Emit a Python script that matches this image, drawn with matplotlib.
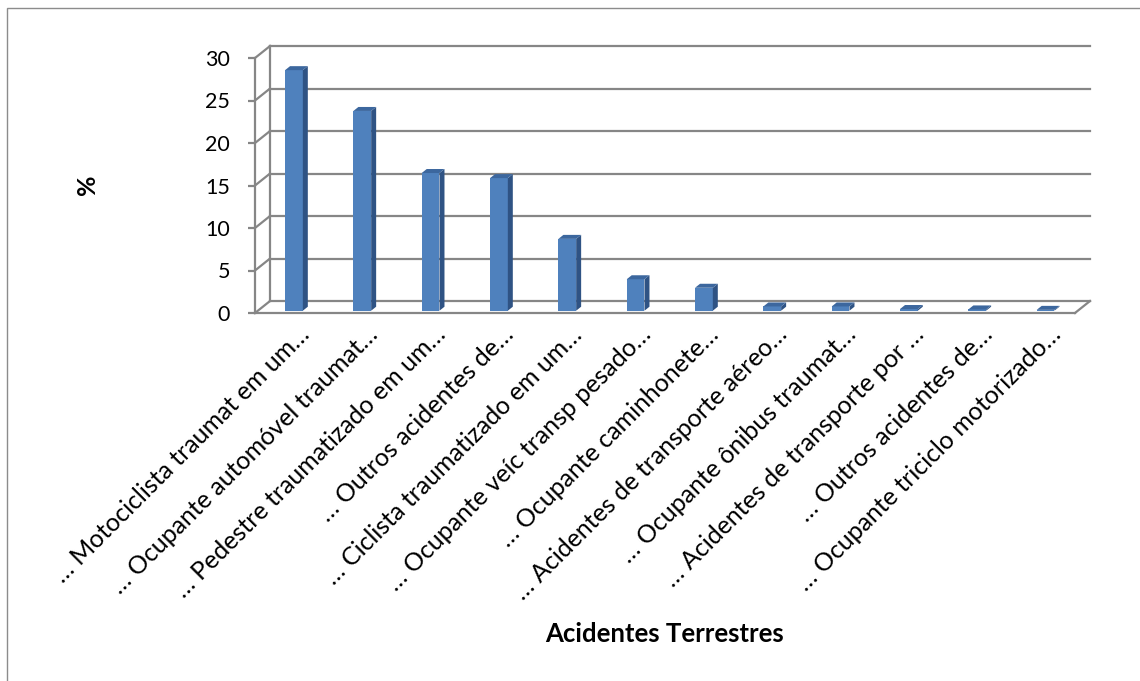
import numpy as np
import matplotlib
matplotlib.use("Agg")
import matplotlib.pyplot as plt
from matplotlib.patches import Polygon
from matplotlib.transforms import ScaledTranslation

plt.rcParams['font.family'] = ['Lato', 'DejaVu Sans']

categories = ["… Motociclista traumat em um…",
              "… Ocupante automóvel traumat…",
              "… Pedestre traumatizado em um…",
              "… Outros acidentes de…",
              "… Ciclista traumatizado em um…",
              "… Ocupante veíc transp pesado…",
              "… Ocupante caminhonete…",
              "… Acidentes de transporte aéreo…",
              "… Ocupante ônibus traumat…",
              "… Acidentes de transporte por …",
              "… Outros acidentes de…",
              "… Ocupante triciclo motorizado…"]
values = [28.3, 23.5, 16.2, 15.6, 8.45, 3.7, 2.7, 0.5, 0.5, 0.2, 0.15, 0.1]
yticks = [0, 5, 10, 15, 20, 25, 30]

grid = "#868686"
face = "#4F81BD"
side = "#2F5384"
top = "#3C679E"

# depth of the fake 3d box, in data units
dx = 0.22
dy = 1.41

fig = plt.figure(figsize=(11.4, 6.81), dpi=100)
fig.patches.append(plt.Rectangle((7 / 1140, -0.1), 1.2, (673 + 68) / 681,
                                 transform=fig.transFigure, fill=False,
                                 edgecolor="#8C8C8C", lw=1.0))

ax = fig.add_axes([255 / 1140, (681 - 317.25) / 681, 835 / 1140, 274.55 / 681])
n = len(values)
ax.set_xlim(-0.5, n - 0.5 + dx)
ax.set_ylim(-0.5, 31.8)
ax.patch.set_alpha(0)

# back wall gridlines and the left-side connectors
for v in yticks:
    ax.plot([-0.5 + dx, n - 0.5 + dx], [v + dy, v + dy], color=grid, lw=1.6,
            clip_on=False, zorder=1)
    ax.plot([-0.5, -0.5 + dx], [v, v + dy], color=grid, lw=1.6,
            clip_on=False, zorder=1)
ax.plot([-0.5 + dx, -0.5 + dx], [dy, yticks[-1] + dy], color=grid, lw=1.6,
        clip_on=False, zorder=1)
ax.plot([n - 0.5, n - 0.5 + dx], [0, dy], color=grid, lw=1.6,
        clip_on=False, zorder=1)

# bars: front face with ax.bar, then side and top faces
x = np.arange(n) + 0.07
w = 0.26
base = 0.27
sx, sy = 0.073, 0.47
ax.bar(x, values, width=w, bottom=base, color=face, zorder=3)
for xi, v in zip(x, values):
    r = xi + w / 2
    l = xi - w / 2
    h = base + v
    ax.add_patch(Polygon([(r, base), (r + sx, base + sy), (r + sx, h + sy), (r, h)],
                         closed=True, facecolor=side, edgecolor="none", zorder=3))
    ax.add_patch(Polygon([(l, h), (r, h), (r + sx, h + sy), (l + sx, h + sy)],
                         closed=True, facecolor=top, edgecolor="none", zorder=3))

for s in ["top", "right"]:
    ax.spines[s].set_visible(False)
ax.spines["left"].set_bounds(0, 30)
ax.spines["left"].set_color(grid)
ax.spines["left"].set_linewidth(1.6)
ax.spines["bottom"].set_position(("data", 0))
ax.spines["bottom"].set_bounds(-0.5, n - 0.5)
ax.spines["bottom"].set_color(grid)
ax.spines["bottom"].set_linewidth(1.6)

ax.set_yticks(yticks)
ax.set_yticklabels([str(t) for t in yticks], fontsize=15.5)
ax.tick_params(axis="y", length=5, width=1.6, color=grid, pad=13)

ax.set_xticks(np.arange(n))
ax.set_xticklabels(categories, fontsize=18, rotation=45, ha="right",
                   va="top", rotation_mode="anchor")
ax.tick_params(axis="x", length=0, pad=7)
for lab in ax.get_xticklabels():
    lab.set_transform(lab.get_transform() + ScaledTranslation(0.08, 0, fig.dpi_scale_trans))

fig.text(88 / 1140, 1 - 185 / 681, "%", fontsize=18, fontweight="bold",
         rotation=90, ha="center", va="center")
fig.text(665 / 1140, 1 - 634 / 681, "Acidentes Terrestres", fontsize=18.5,
         fontweight="bold", ha="center", va="center")

fig.savefig("out.png", dpi=100)
